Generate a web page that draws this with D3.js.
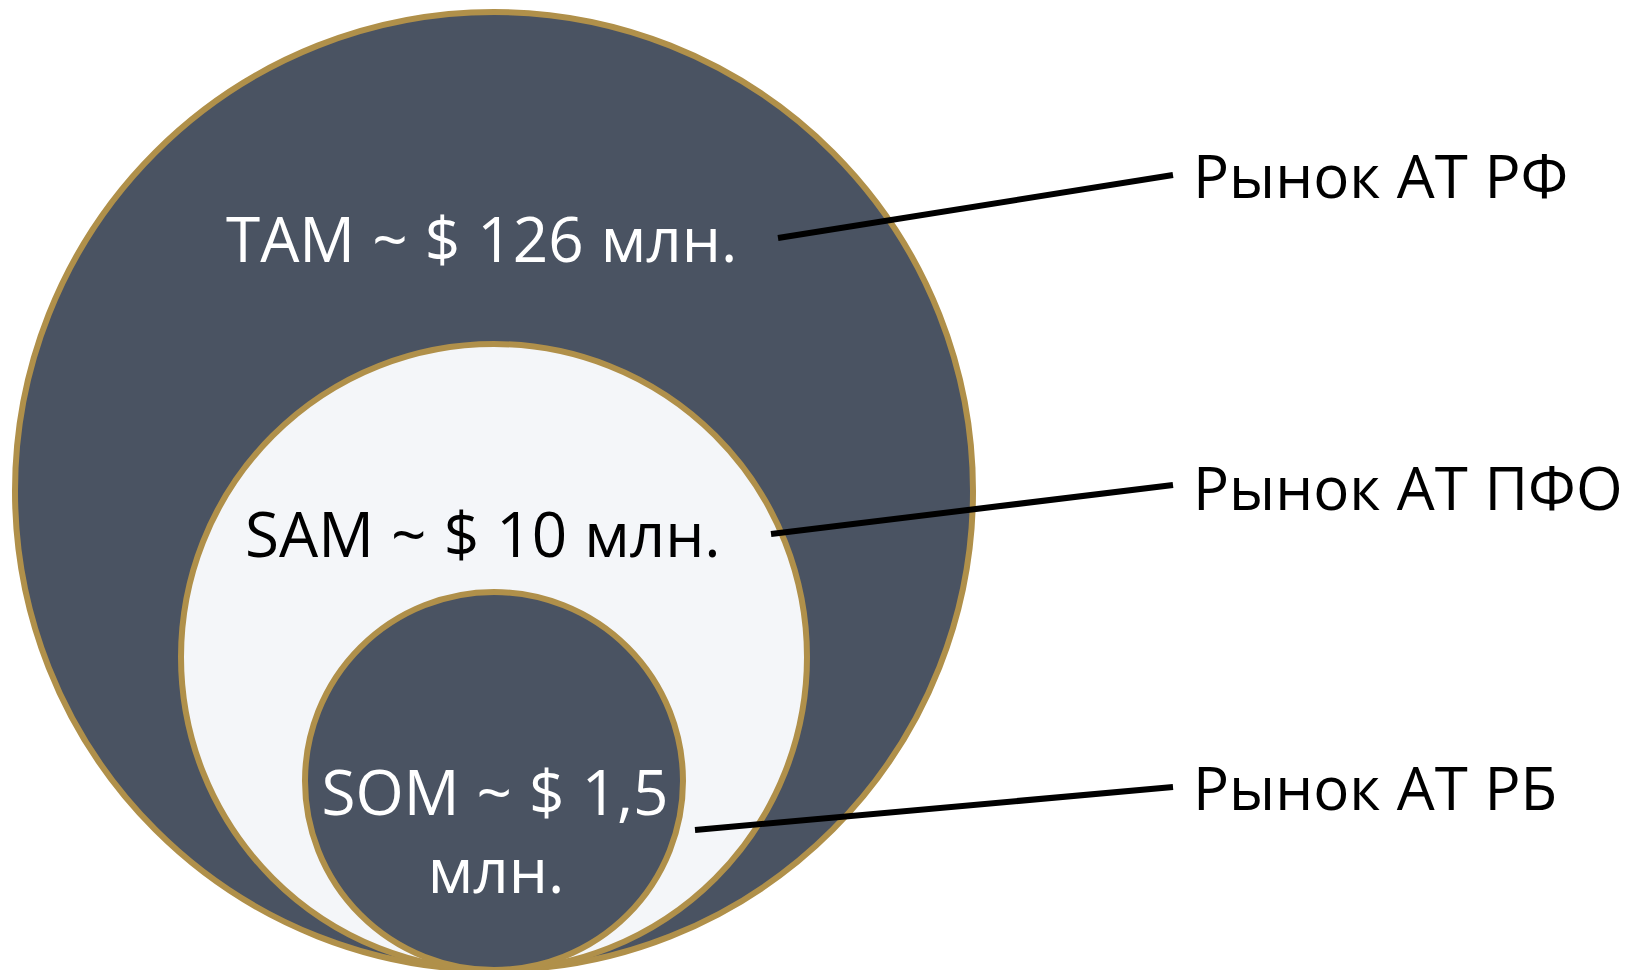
<!DOCTYPE html>
<html>
<head>
<meta charset="utf-8">
<style>
    body { margin: 0; background: #fff; }
    svg { display: block; }
    .seg-label { font-family: "Open Sans", "Noto Sans", sans-serif; }
    .market-label { font-family: "Open Sans", "Noto Sans", sans-serif; fill: #000; }
</style>
<script src="https://d3js.org/d3.v7.min.js"></script>
</head>
<body>
<svg width="1632" height="970"></svg>
<script>
    // market levels, from the outer circle to the inner one
    const segments = ["TAM", "SAM", "SOM"];
    const values = ["126", "10", "1,5"];
    const markets = ["Рынок АТ РФ", "Рынок АТ ПФО", "Рынок АТ РБ"];

    const dark = "#4a5362";
    const light = "#f4f6f9";
    const gold = "#b0904a";

    const svg = d3.select("svg");
    const bottom = 970;
    const cx = 494;

    const radius = d3.scaleOrdinal().domain(segments).range([479, 313, 189]);
    const fill = d3.scaleOrdinal().domain(segments).range([dark, light, dark]);
    const textFill = d3.scaleOrdinal().domain(segments).range(["#fff", "#000", "#fff"]);

    // circles all touch the bottom edge
    svg.append("g")
        .selectAll("circle")
        .data(segments)
        .join("circle")
        .attr("cx", cx)
        .attr("cy", d => bottom - radius(d))
        .attr("r", d => radius(d))
        .attr("fill", d => fill(d))
        .attr("stroke", gold)
        .attr("stroke-width", 6);

    // label layout for each level
    const labelPos = {
        TAM: {x: 226, y: 262, anchor: "start"},
        SAM: {x: 245, y: 557, anchor: "start"},
        SOM: {x: 495, y: 815, anchor: "middle"}
    };

    segments.forEach((s, i) => {
        const p = labelPos[s];
        const t = svg.append("text")
            .attr("class", "seg-label")
            .attr("x", p.x)
            .attr("y", p.y)
            .attr("font-size", 62)
            .attr("word-spacing", 1)
            .attr("text-anchor", p.anchor)
            .attr("fill", textFill(s));
        if (s === "SOM") {
            t.text(`${s} ~ $ ${values[i]}`);
            svg.append("text")
                .attr("class", "seg-label")
                .attr("x", 496)
                .attr("y", 893)
                .attr("font-size", 62)
                .attr("text-anchor", "middle")
                .attr("fill", textFill(s))
                .text("млн.");
        } else {
            t.text(`${s} ~ $ ${values[i]} млн.`);
        }
    });

    // leader lines and market names on the right
    const leaders = [
        {x1: 778, y1: 238, x2: 1173, y2: 175, ty: 198},
        {x1: 771, y1: 534, x2: 1173, y2: 485, ty: 510},
        {x1: 695, y1: 830, x2: 1173, y2: 787, ty: 810}
    ];

    svg.append("g")
        .selectAll("line")
        .data(leaders)
        .join("line")
        .attr("x1", d => d.x1)
        .attr("y1", d => d.y1)
        .attr("x2", d => d.x2)
        .attr("y2", d => d.y2)
        .attr("stroke", "#000")
        .attr("stroke-width", 6);

    svg.append("g")
        .selectAll("text")
        .data(markets)
        .join("text")
        .attr("class", "market-label")
        .attr("x", 1193)
        .attr("y", (d, i) => leaders[i].ty)
        .attr("font-size", 60)
        .attr("word-spacing", 1)
        .text(d => d);
</script>
</body>
</html>
